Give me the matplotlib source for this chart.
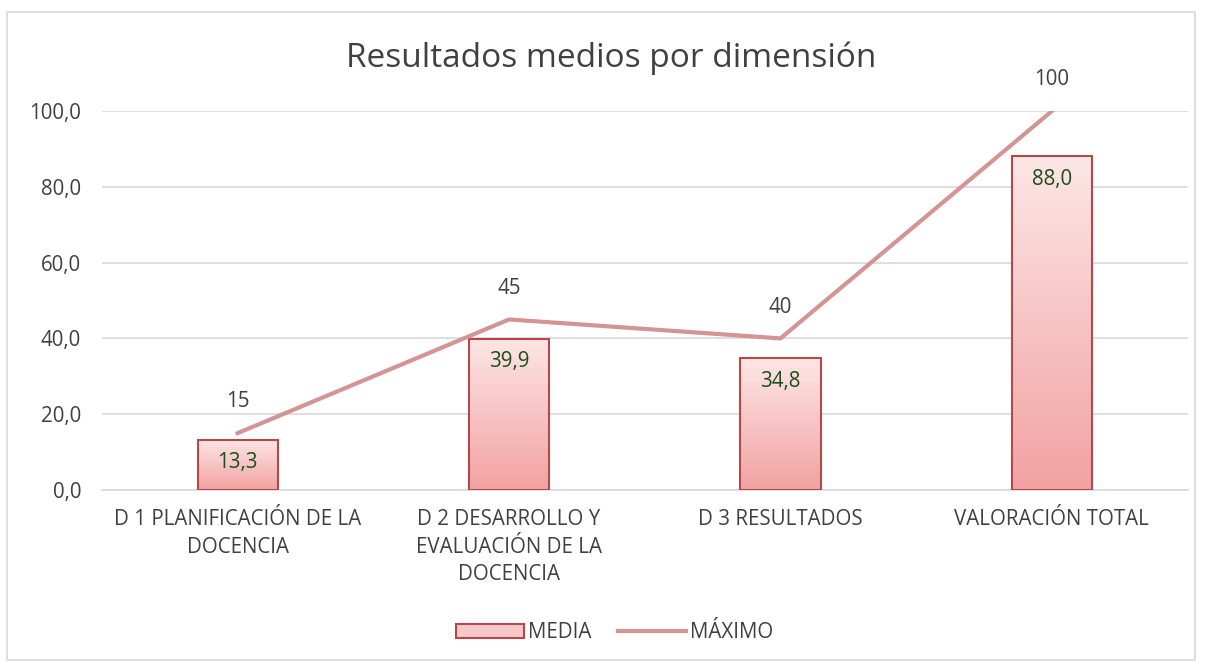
import numpy as np
import matplotlib.pyplot as plt
from matplotlib.colors import LinearSegmentedColormap
from matplotlib.patches import Rectangle

categories = ['D 1 PLANIFICACIÓN DE LA\nDOCENCIA', 'D 2 DESARROLLO Y\nEVALUACIÓN DE LA\nDOCENCIA',
              'D 3 RESULTADOS', 'VALORACIÓN TOTAL']
media = [13.3, 39.9, 34.8, 88.0]
maximo = [15, 45, 40, 100]

plt.rcParams['font.family'] = ['Open Sans', 'DejaVu Sans']
fs = 14.8

fig = plt.figure(figsize=(12.05, 6.66), dpi=100)
ax = fig.add_axes([0.0846, 0.2643, 0.901, 0.569])

# chart border
fig.patches.append(Rectangle((0.006, 0.009), 0.986, 0.973, transform=fig.transFigure,
                             fill=False, edgecolor='#d9d9d9', linewidth=1.2))

x = np.arange(len(categories))
w = 0.295
cmap = LinearSegmentedColormap.from_list('pk', ['#f2a2a2', '#fde6e6'])
grad = np.linspace(0, 1, 256).reshape(-1, 1)
bars = ax.bar(x, media, width=w, color='none', edgecolor='#b5484a', linewidth=1.5, zorder=3)
for b in bars:
    x0, y0 = b.get_x(), b.get_y()
    im = ax.imshow(grad, cmap=cmap, aspect='auto', origin='lower',
                   extent=[x0, x0 + b.get_width(), y0, y0 + b.get_height()], zorder=2)
    im.set_clip_path(b)

line, = ax.plot(x, maximo, color='#d49494', linewidth=3, zorder=4)

for xi, v in zip(x, media):
    ax.text(xi, v - 3.3, f'{v:.1f}'.replace('.', ','), ha='center', va='top',
            fontsize=fs, color='#1d4d1d', zorder=5)
for xi, v in zip(x, maximo):
    ax.text(xi, v + 5.5, str(v), ha='center', va='bottom', fontsize=fs, color='#404040', zorder=5)

ax.set_xlim(-0.5, 3.5)
ax.set_ylim(0, 100)
ax.set_yticks(np.arange(0, 101, 20))
ax.set_yticklabels([f'{t:.1f}'.replace('.', ',') for t in np.arange(0, 101, 20)])
ax.set_xticks(x)
ax.set_xticklabels(categories, fontsize=fs, color='#404040', va='top', linespacing=1.38)
ax.tick_params(axis='y', labelsize=fs, colors='#404040', length=0, pad=15)
ax.tick_params(axis='x', length=0, pad=14)
ax.grid(axis='y', color='#d9d9d9', linewidth=1.2, zorder=0)
ax.set_axisbelow(True)
for s in ['top', 'right', 'left']:
    ax.spines[s].set_visible(False)
ax.spines['bottom'].set_color('#d9d9d9')
ax.spines['bottom'].set_linewidth(1.2)

fig.text(0.507, 0.913, 'Resultados medios por dimensión', ha='center', va='center',
         fontsize=24, color='#404040')

leg_patch = Rectangle((0, 0), 1, 1, facecolor='#f8c8c8', edgecolor='#b5484a', linewidth=1.5)
fig.legend([leg_patch, line], ['MEDIA', 'MÁXIMO'], loc='center', bbox_to_anchor=(0.51, 0.05),
           ncol=2, frameon=False, fontsize=fs, labelcolor='#404040', handlelength=3.3,
           handleheight=0.7, columnspacing=1.3, handletextpad=0.2)

fig.savefig('out.png', dpi=100)
